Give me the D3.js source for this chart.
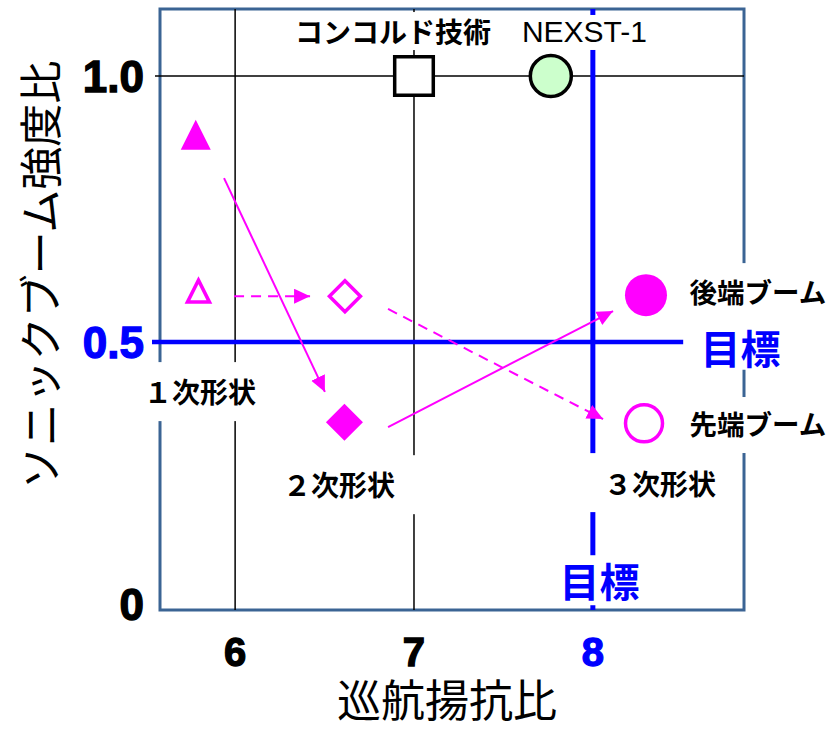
<!DOCTYPE html>
<html>
<head>
<meta charset="utf-8">
<script src="https://cdn.jsdelivr.net/npm/d3@7"></script>
<style>
body { margin: 0; background: #fff; }
#chart-container { width: 834px; height: 730px; }
</style>
</head>
<body>
<div id="chart-container"></div>
<script>
//data
var pointShapes = ['triangle', 'triangleOpen', 'diamondOpen', 'diamond', 'circle', 'circleOpen', 'square', 'circleGreen'];
var ldValues = [5.78, 5.795, 6.614, 6.611, 8.297, 8.286, 7.0, 7.765];
var boomValues = [0.88, 0.589, 0.586, 0.349, 0.588, 0.347, 1.0, 1.0];

//arrows: design steps 1st -> 2nd -> 3rd
var arrowFromLD = [5.938, 6.855, 5.994, 6.855];
var arrowFromBoom = [0.808, 0.340, 0.586, 0.562];
var arrowToLD = [6.502, 8.113, 6.419, 8.057];
var arrowToBoom = [0.406, 0.558, 0.586, 0.355];
var arrowDashed = [false, false, true, true];

//ticks
var xTickValues = [6, 7, 8];
var xTickLabels = ['6', '7', '8'];
var yTickValues = [0, 0.5, 1.0];
var yTickLabels = ['0', '0.5', '1.0'];
var gridX = [6, 7];
var gridY = [1.0];
var targetLD = 8;
var targetBoom = 0.5;

//annotations
var labelTexts = ['コンコルド技術', 'NEXST-1', '１次形状', '２次形状', '３次形状', '後端ブーム', '目標', '先端ブーム', '目標'];
var labelLD = [6.883, 7.953, 5.804, 6.581, 8.375, 8.923, 8.825, 8.923, 8.037];
var labelBoom = [1.062, 1.064, 0.385, 0.210, 0.212, 0.573, 0.459, 0.325, 0.020];

var xTitle = '巡航揚抗比';
var yTitle = 'ソニックブーム強度比';

//containers
var container = d3.select('#chart-container'),
    svg,
    g;

//sizes
var outerW = 834,
    outerH = 730,
    margin = {left: 160, right: 90, top: 9, bottom: 120},
    w = outerW - margin.left - margin.right,
    h = outerH - margin.top - margin.bottom;

//scales
var xScale = d3.scaleLinear().domain([5.58, 8.845]).range([0, w]),
    yScale = d3.scaleLinear().domain([-0.004, 1.126]).range([h, 0]);

var magenta = '#ff00ff',
    blue = '#0000ff',
    frameColor = '#3b6494',
    jpFont = '"Noto Sans CJK JP", "Noto Sans", sans-serif',
    numFont = '"Liberation Sans", Arial, sans-serif';

function shapePath(shape) {
    var s;
    if (shape == 'triangle') return 'M0,-20L15,10L-15,10Z';
    if (shape == 'triangleOpen') return 'M0,-14.5L11,7.5L-11,7.5Z';
    if (shape == 'diamondOpen') { s = 15.5; return 'M0,' + (-s) + 'L' + s + ',0L0,' + s + 'L' + (-s) + ',0Z'; }
    if (shape == 'diamond') { s = 18.5; return 'M0,' + (-s) + 'L' + s + ',0L0,' + s + 'L' + (-s) + ',0Z'; }
    if (shape == 'square') { s = 19.3; return 'M' + (-s) + ',' + (-s) + 'h' + 2 * s + 'v' + 2 * s + 'h' + (-2 * s) + 'Z'; }
    var r = shape == 'circle' ? 21 : (shape == 'circleOpen' ? 18.5 : 20.5);
    return d3.arc()({innerRadius: 0, outerRadius: r, startAngle: 0, endAngle: 2 * Math.PI});
}

var shapeFill = {triangle: magenta, triangleOpen: '#fff', diamondOpen: '#fff', diamond: magenta,
    circle: magenta, circleOpen: '#fff', square: '#fff', circleGreen: '#ccffcc'};
var shapeStroke = {triangle: 'none', triangleOpen: magenta, diamondOpen: magenta, diamond: 'none',
    circle: 'none', circleOpen: magenta, square: '#000', circleGreen: '#000'};

//label styles: size, weight, color, font, white box [left, right, top, bottom] around anchor
var labelStyles = [
    {size: 28, weight: 700, color: '#000', font: jpFont, box: [-108, 107, -31, 7]},
    {size: 30, weight: 400, color: '#000', font: numFont, box: [-70, 70, -27, 8]},
    {size: 28, weight: 700, color: '#000', font: jpFont, box: [-60, 68, -41, 18]},
    {size: 28, weight: 700, color: '#000', font: jpFont, box: [-64, 81, -41, 18]},
    {size: 28, weight: 700, color: '#000', font: jpFont, box: [-75, 75, -42, 17]},
    {size: 27.5, weight: 700, color: '#000', font: jpFont, box: [-72, 76, -40, 15]},
    {size: 40, weight: 700, color: blue, font: jpFont, box: [-55, 60, -46, 6]},
    {size: 27.5, weight: 700, color: '#000', font: jpFont, box: [-72, 76, -38, 18]},
    {size: 40, weight: 700, color: blue, font: jpFont, box: [-42, 42, -42, 8]}
];

function buildChart() {
    svg = container.append('svg')
        .attr('width', outerW)
        .attr('height', outerH);

    var defs = svg.append('defs');
    defs.append('marker')
        .attr('id', 'arrow-head')
        .attr('markerUnits', 'userSpaceOnUse')
        .attr('markerWidth', 17)
        .attr('markerHeight', 16)
        .attr('refX', 16)
        .attr('refY', 7.5)
        .attr('orient', 'auto')
        .append('path')
        .attr('d', 'M0,0L16,7.5L0,15Z')
        .attr('fill', magenta);

    g = svg.append('g')
        .attr('transform', 'translate(' + margin.left + ',' + margin.top + ')');

    //frame
    g.append('rect')
        .attr('class', 'frame')
        .attr('x', 0)
        .attr('y', 0)
        .attr('width', w)
        .attr('height', h)
        .attr('fill', 'none')
        .attr('stroke', frameColor)
        .attr('stroke-width', 3);

    //grid
    g.selectAll('.grid-x')
        .data(gridX)
        .enter()
        .append('line')
        .attr('class', 'grid-x')
        .attr('x1', function(d) { return xScale(d); })
        .attr('x2', function(d) { return xScale(d); })
        .attr('y1', 0)
        .attr('y2', h)
        .attr('stroke', '#000')
        .attr('stroke-width', 1.5);

    g.selectAll('.grid-y')
        .data(gridY)
        .enter()
        .append('line')
        .attr('class', 'grid-y')
        .attr('x1', -5)
        .attr('x2', w)
        .attr('y1', function(d) { return yScale(d); })
        .attr('y2', function(d) { return yScale(d); })
        .attr('stroke', '#000')
        .attr('stroke-width', 1.5);

    //targets
    g.append('line')
        .attr('x1', xScale(targetLD))
        .attr('x2', xScale(targetLD))
        .attr('y1', 0)
        .attr('y2', h)
        .attr('stroke', blue)
        .attr('stroke-width', 5);

    g.append('line')
        .attr('x1', -8)
        .attr('x2', xScale(8.505))
        .attr('y1', yScale(targetBoom))
        .attr('y2', yScale(targetBoom))
        .attr('stroke', blue)
        .attr('stroke-width', 4.5);

    //white label boxes that break the lines
    g.selectAll('.label-box')
        .data(labelTexts)
        .enter()
        .append('rect')
        .attr('class', 'label-box')
        .attr('x', function(d, i) { return xScale(labelLD[i]) + labelStyles[i].box[0]; })
        .attr('y', function(d, i) { return yScale(labelBoom[i]) + labelStyles[i].box[2]; })
        .attr('width', function(d, i) { return labelStyles[i].box[1] - labelStyles[i].box[0]; })
        .attr('height', function(d, i) { return labelStyles[i].box[3] - labelStyles[i].box[2]; })
        .attr('fill', '#fff');

    //arrows
    g.selectAll('.step-arrow')
        .data(arrowDashed)
        .enter()
        .append('line')
        .attr('class', 'step-arrow')
        .attr('x1', function(d, i) { return xScale(arrowFromLD[i]); })
        .attr('y1', function(d, i) { return yScale(arrowFromBoom[i]); })
        .attr('x2', function(d, i) { return xScale(arrowToLD[i]); })
        .attr('y2', function(d, i) { return yScale(arrowToBoom[i]); })
        .attr('stroke', magenta)
        .attr('stroke-width', 2)
        .attr('stroke-dasharray', function(d) { return d ? '10,7' : null; })
        .attr('marker-end', 'url(#arrow-head)');

    //points
    g.selectAll('.point')
        .data(pointShapes)
        .enter()
        .append('path')
        .attr('class', 'point')
        .attr('transform', function(d, i) { return 'translate(' + xScale(ldValues[i]) + ',' + yScale(boomValues[i]) + ')'; })
        .attr('d', function(d) { return shapePath(d); })
        .attr('fill', function(d) { return shapeFill[d]; })
        .attr('stroke', function(d) { return shapeStroke[d]; })
        .attr('stroke-width', 3.5);

    //labels
    g.selectAll('.label')
        .data(labelTexts)
        .enter()
        .append('text')
        .attr('class', 'label')
        .attr('x', function(d, i) { return xScale(labelLD[i]); })
        .attr('y', function(d, i) { return yScale(labelBoom[i]); })
        .attr('text-anchor', 'middle')
        .style('font-family', function(d, i) { return labelStyles[i].font; })
        .style('font-size', function(d, i) { return labelStyles[i].size + 'px'; })
        .style('font-weight', function(d, i) { return labelStyles[i].weight; })
        .attr('fill', function(d, i) { return labelStyles[i].color; })
        .text(function(d) { return d; });

    //y ticks
    g.selectAll('.y-tick')
        .data(yTickValues)
        .enter()
        .append('text')
        .attr('class', 'y-tick')
        .attr('x', -16)
        .attr('y', function(d) { return Math.min(yScale(d) + 16, h + 10); })
        .attr('text-anchor', 'end')
        .style('font-family', numFont)
        .style('font-size', '44px')
        .style('font-weight', 700)
        .attr('fill', function(d) { return d == targetBoom ? blue : '#000'; })
        .attr('stroke', function(d) { return d == targetBoom ? blue : '#000'; })
        .attr('stroke-width', 1.3)
        .text(function(d, i) { return yTickLabels[i]; });

    //x ticks
    g.selectAll('.x-tick')
        .data(xTickValues)
        .enter()
        .append('text')
        .attr('class', 'x-tick')
        .attr('x', function(d) { return xScale(d); })
        .attr('y', h + 56)
        .attr('text-anchor', 'middle')
        .style('font-family', numFont)
        .style('font-size', '40px')
        .style('font-weight', 700)
        .attr('fill', function(d) { return d == targetLD ? blue : '#000'; })
        .attr('stroke', function(d) { return d == targetLD ? blue : '#000'; })
        .attr('stroke-width', 1.3)
        .text(function(d, i) { return xTickLabels[i]; });

    //axis titles
    svg.append('text')
        .attr('x', 447)
        .attr('y', 717)
        .attr('text-anchor', 'middle')
        .style('font-family', jpFont)
        .style('font-size', '44px')
        .attr('fill', '#000')
        .text(xTitle);

    svg.append('text')
        .attr('transform', 'translate(57,275) rotate(-90)')
        .attr('text-anchor', 'middle')
        .style('font-family', jpFont)
        .style('font-size', '43px')
        .attr('fill', '#000')
        .text(yTitle);
}

buildChart();
</script>
</body>
</html>
